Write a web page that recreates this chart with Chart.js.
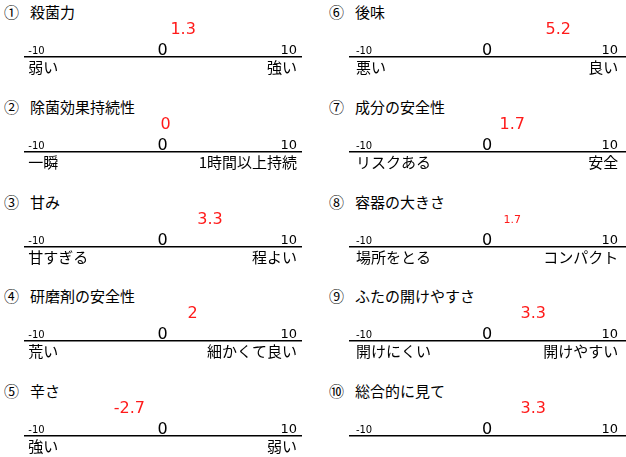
<!DOCTYPE html>
<html lang="ja">
<head>
<meta charset="utf-8">
<title>評価</title>
<script src="https://cdn.jsdelivr.net/npm/chart.js@4.4.1/dist/chart.umd.min.js"></script>
<style>
  body {
    margin: 0;
    width: 626px;
    height: 457px;
    overflow: hidden;
    background: #fff;
    position: relative;
    font-family: 'Noto Sans CJK JP', sans-serif;
    color: #000;
  }
  .panel { position: absolute; width: 325px; height: 95px; }
  .title { position: absolute; top: 0; left: 0; width: 325px; height: 24px; line-height: 24px; font-size: 15px; white-space: nowrap; }
  .title .num { position: absolute; left: 4px; }
  .title .txt { position: absolute; left: 30px; }
  .box { position: absolute; top: 18px; left: 0; width: 325px; height: 62px; }
</style>
</head>
<body>
<script>
// Items and their scores (scale -10 .. 10)
const titles = ['殺菌力', '除菌効果持続性', '甘み', '研磨剤の安全性', '辛さ', '後味', '成分の安全性', '容器の大きさ', 'ふたの開けやすさ', '総合的に見て']
const values = [1.3, 0, 3.3, 2, -2.7, 5.2, 1.7, 1.7, 3.3, 3.3]
const lowLabels = ['弱い', '一瞬', '甘すぎる', '荒い', '強い', '悪い', 'リスクある', '場所をとる', '開けにくい', '']
const highLabels = ['強い', '1時間以上持続', '程よい', '細かくて良い', '弱い', '良い', '安全', 'コンパクト', '開けやすい', '']
const tickValues = [-10, 0, 10]
const tickLabels = ['-10', '0', '10']
const endValues = [-10, 10]

const FONT = "'Noto Sans CJK JP', sans-serif"
const NUM_FONT = "'DejaVu Sans', sans-serif"

// Tick label size depends on the tick (small -10, big 0)
function tickFontSize(c) {
  const v = c && c.tick ? c.tick.value : 10
  if (v === 0) return 16
  return v < 0 ? 10 : 13
}

// Draw the score above the line at the point position
const valueLabelPlugin = {
  id: 'valueLabel',
  afterDraw(chart) {
    const point = chart.getDatasetMeta(0).data[0]
    const value = chart.data.datasets[0].data[0].x
    const size = chart.options.plugins.valueLabel.size
    const ctx = chart.ctx
    ctx.save()
    ctx.font = size + 'px ' + NUM_FONT
    ctx.fillStyle = '#ff1a1a'
    ctx.textAlign = 'center'
    ctx.textBaseline = 'middle'
    ctx.fillText(String(value), point.x + 3, chart.chartArea.top - 27)
    ctx.restore()
  }
}

function makeChart(canvas, i, col) {
  // right column is a little narrower on the right side
  const min = col === 0 ? -10.25 : -10.45
  const max = col === 0 ? 10.3 : 10.6

  new Chart(canvas, {
    type: 'scatter',
    data: {
      datasets: [{ data: [{ x: values[i], y: 0 }], pointRadius: 0 }]
    },
    options: {
      responsive: true,
      maintainAspectRatio: false,
      animation: false,
      events: [],
      layout: { padding: { left: 25, right: 24, top: 0, bottom: 0 } },
      plugins: {
        legend: { display: false },
        tooltip: { enabled: false },
        valueLabel: { size: i === 7 ? 11 : 16 }
      },
      scales: {
        x: {
          type: 'linear',
          position: 'top',
          min: min,
          max: max,
          grid: { display: false, drawTicks: false },
          border: { display: true, color: '#000', width: 1.5 },
          afterBuildTicks: s => { s.ticks = tickValues.map(v => ({ value: v })) },
          afterFit: s => { s.height = 39 },
          ticks: {
            align: 'inner',
            padding: -1,
            color: '#000',
            autoSkip: false,
            maxRotation: 0,
            callback: (v, idx) => tickLabels[idx],
            font: c => ({ family: NUM_FONT, size: tickFontSize(c), lineHeight: '14px' })
          }
        },
        x2: {
          type: 'linear',
          position: 'bottom',
          min: min,
          max: max,
          grid: { display: false, drawTicks: false },
          border: { display: false },
          afterBuildTicks: s => { s.ticks = endValues.map(v => ({ value: v })) },
          afterFit: s => { s.height = 22 },
          ticks: {
            align: 'inner',
            padding: 0,
            color: '#000',
            autoSkip: false,
            maxRotation: 0,
            callback: (v, idx) => (idx === 0 ? lowLabels[i] : highLabels[i]),
            font: { family: FONT, size: 15, lineHeight: '18px' }
          }
        },
        y: { display: false, min: -1, max: 1 }
      }
    },
    plugins: [valueLabelPlugin]
  })
}

titles.forEach((title, i) => {
  const col = Math.floor(i / 5)
  const row = i % 5
  const panel = document.createElement('div')
  panel.className = 'panel'
  panel.style.left = col * 325 + 'px'
  panel.style.top = row * 94.75 + 'px'
  panel.innerHTML =
    '<div class="title"><span class="num">' + String.fromCharCode(0x2460 + i) +
    '</span><span class="txt">' + title + '</span></div>' +
    '<div class="box"><canvas></canvas></div>'
  document.body.appendChild(panel)
  makeChart(panel.querySelector('canvas'), i, col)
})
</script>
</body>
</html>
